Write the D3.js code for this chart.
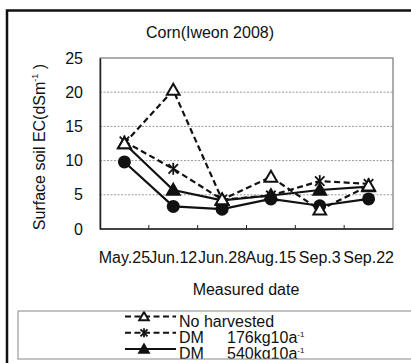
<!DOCTYPE html>
<meta charset="utf-8">
<style>
  body { margin: 0; background: #fff; }
  text { font-family: Arial, "Liberation Sans", sans-serif; fill: #111; }
</style>
<body></body>
<script src="https://cdn.jsdelivr.net/npm/d3@7"></script>
<script>
  const width = 411
  const height = 363

  const dates = ["May.25", "Jun.12", "Jun.28", "Aug.15", "Sep.3", "Sep.22"]
  const yTicks = [0, 5, 10, 15, 20, 25]

  const noHarvested = [12.5, 20.3, 4.3, 7.6, 2.8, 6.3]
  const dm176 = [12.8, 8.8, 4.3, 4.9, 7.0, 6.6]
  const dm540 = [12.5, 5.7, 4.2, 4.9, 5.7, 6.2]
  const dm1080 = [9.8, 3.3, 2.9, 4.4, 3.4, 4.4]

  // 4th series has no visible legend row in the picture (legend box cuts it off)
  const series = [
    { name: "No harvested", values: noHarvested, dash: "6,3.5", marker: "triOpen" },
    { name: "DM", dose: "176kg10a", values: dm176, dash: "6,3.5", marker: "star" },
    { name: "DM", dose: "540kg10a", values: dm540, dash: null, marker: "triFill" },
    { name: "DM", dose: "1080kg10a", values: dm1080, dash: null, marker: "circle" }
  ]

  const margin = { left: 100, right: 18, top: 58, bottom: 134 }

  const svg = d3.select("body").append("svg")
    .attr("width", width)
    .attr("height", height)

  // outer frame (runs off the right and bottom of the picture)
  svg.append("rect")
    .attr("x", 7).attr("y", 10.5)
    .attr("width", 420).attr("height", 380)
    .attr("fill", "none")
    .attr("stroke", "#111")
    .attr("stroke-width", 2.5)

  const x = d3.scaleBand()
    .domain(dates)
    .range([margin.left, width - margin.right])

  const y = d3.scaleLinear()
    .domain([0, 25])
    .range([229, margin.top])

  // grid
  svg.append("g")
    .selectAll("line")
    .data(yTicks.filter(d => d > 0 && d < 25))
    .join("line")
    .attr("x1", margin.left).attr("x2", width - margin.right)
    .attr("y1", d => y(d)).attr("y2", d => y(d))
    .attr("stroke", "#999")
    .attr("stroke-dasharray", "2,1.5")
    .attr("stroke-width", 1)

  // plot frame
  svg.append("rect")
    .attr("x", margin.left).attr("y", y(25))
    .attr("width", width - margin.right - margin.left)
    .attr("height", y(0) - y(25))
    .attr("fill", "none")
    .attr("stroke", "#777")
    .attr("stroke-width", 1.2)

  // y axis
  const yAxis = svg.append("g")
    .attr("transform", `translate(${margin.left},0)`)
    .call(d3.axisLeft(y).tickValues(yTicks).tickSize(0).tickPadding(17))
  yAxis.select(".domain").attr("stroke", "#222").attr("stroke-width", 1.5)
  yAxis.selectAll("text").attr("font-size", 16).attr("fill", "#111")
    .attr("font-family", "Arial, 'Liberation Sans', sans-serif")

  // x axis: ticks between categories, pointing up
  const xAxis = svg.append("g")
    .attr("transform", `translate(0,${y(0)})`)
  xAxis.append("line")
    .attr("x1", margin.left).attr("x2", width - margin.right)
    .attr("stroke", "#222").attr("stroke-width", 1.5)
  xAxis.selectAll("line.tick")
    .data(dates.slice(1))
    .join("line")
    .attr("class", "tick")
    .attr("x1", d => x(d)).attr("x2", d => x(d))
    .attr("y1", 0).attr("y2", -4)
    .attr("stroke", "#222")
  xAxis.selectAll("text")
    .data(dates)
    .join("text")
    .attr("x", d => x(d) + x.bandwidth() / 2)
    .attr("y", 34)
    .attr("text-anchor", "middle")
    .attr("font-size", 16)
    .text(d => d)

  // titles
  svg.append("text")
    .attr("x", 210).attr("y", 38)
    .attr("text-anchor", "middle")
    .attr("font-size", 16)
    .text("Corn(Iweon 2008)")

  svg.append("text")
    .attr("x", 246).attr("y", 295)
    .attr("text-anchor", "middle")
    .attr("font-size", 16)
    .text("Measured date")

  const yLabel = svg.append("text")
    .attr("transform", "translate(45,147) rotate(-90)")
    .attr("text-anchor", "middle")
    .attr("font-size", 16)
  yLabel.append("tspan").text("Surface soil EC(dSm")
  yLabel.append("tspan").attr("font-size", 9).attr("dy", -7).text("-1")
  yLabel.append("tspan").attr("dy", 7).text(" )")

  // markers
  function drawMarker(g, type, cx, cy, k = 1) {
    if (type === "triOpen" || type === "triFill") {
      g.append("path")
        .attr("d", d3.symbol(d3.symbolTriangle, 70 * k * k)())
        .attr("transform", `translate(${cx},${cy + 1})`)
        .attr("fill", type === "triOpen" ? "#fff" : "#111")
        .attr("stroke", "#111")
        .attr("stroke-width", 2)
    } else if (type === "star") {
      g.append("path")
        .attr("d", d3.symbol(d3.symbolTimes, 60 * k * k)())
        .attr("transform", `translate(${cx},${cy})`)
        .attr("fill", "none").attr("stroke", "#111").attr("stroke-width", 1.8)
      g.append("line")
        .attr("x1", cx).attr("x2", cx).attr("y1", cy - 6 * k).attr("y2", cy + 6 * k)
        .attr("stroke", "#111").attr("stroke-width", 1.8)
    } else {
      g.append("circle")
        .attr("cx", cx).attr("cy", cy).attr("r", 6.5 * k)
        .attr("fill", "#111")
    }
  }

  const line = d3.line()
    .x((d, i) => x(dates[i]) + x.bandwidth() / 2)
    .y(d => y(d))

  const plot = svg.append("g")
  series.slice().reverse().forEach(s => {
    plot.append("path")
      .datum(s.values)
      .attr("d", line)
      .attr("fill", "none")
      .attr("stroke", "#111")
      .attr("stroke-width", 2.2)
      .attr("stroke-dasharray", s.dash)
  })
  series.slice().reverse().forEach(s => {
    s.values.forEach((v, i) => drawMarker(plot, s.marker, x(dates[i]) + x.bandwidth() / 2, y(v)))
  })

  // legend, clipped to its box like the original
  const lb = { x: 18, y: 311, w: 400, h: 48 }
  svg.append("clipPath").attr("id", "legclip")
    .append("rect").attr("x", lb.x).attr("y", lb.y).attr("width", lb.w).attr("height", lb.h)

  svg.append("rect")
    .attr("x", lb.x).attr("y", lb.y)
    .attr("width", lb.w).attr("height", lb.h)
    .attr("fill", "#fff")

  const legend = svg.append("g").attr("clip-path", "url(#legclip)")
  series.slice(0, 3).forEach((s, i) => {
    const ly = 316.5 + i * 16.3
    legend.append("line")
      .attr("x1", 125).attr("x2", 176)
      .attr("y1", ly).attr("y2", ly)
      .attr("stroke", "#111").attr("stroke-width", 2)
      .attr("stroke-dasharray", s.dash ? "6,3.5" : null)
    drawMarker(legend, s.marker, 144, ly, 0.75)
    const t = legend.append("text")
      .attr("x", 179).attr("y", ly + 10)
      .attr("font-size", 16)
    if (s.dose) {
      t.append("tspan").text("DM")
      t.append("tspan").attr("x", 227).text(s.dose)
      t.append("tspan").attr("font-size", 8).attr("dy", -6).text("-1")
    } else {
      t.text(s.name)
    }
  })

  svg.append("rect")
    .attr("x", lb.x).attr("y", lb.y)
    .attr("width", lb.w).attr("height", lb.h)
    .attr("fill", "none")
    .attr("stroke", "#888")
    .attr("stroke-width", 1)
</script>
